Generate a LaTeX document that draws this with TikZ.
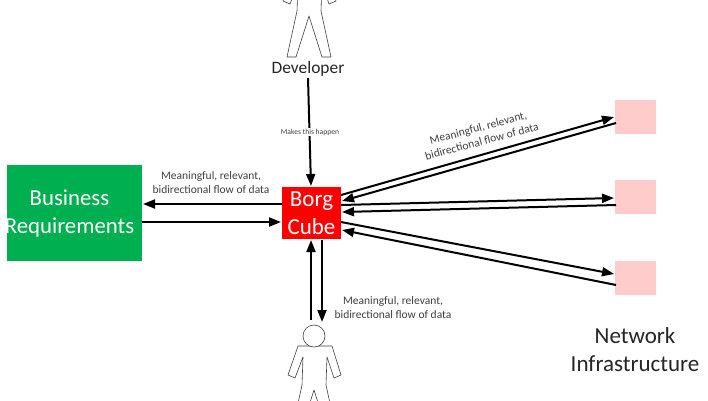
\documentclass[tikz,border=0pt]{standalone}
\usepackage{fontspec}
\setmainfont{Carlito}
\usetikzlibrary{arrows.meta}
\definecolor{grn}{HTML}{00B050}
\definecolor{pnk}{HTML}{FFCCCC}
\definecolor{txt}{HTML}{404040}
\tikzset{
  box/.style={draw=none,inner sep=0pt,outer sep=0pt,align=center},
  lbl/.style={inner sep=0pt,align=center,text=txt,font=\fontsize{11.5}{14}\selectfont},
  flow/.style={line width=2pt,draw=black,-{Triangle[length=12pt,width=9pt]}},
  body/.style={draw=black!75,line width=0.6pt,fill=white,line join=round},
  person/.pic={
    \draw[body] (-16,-44) -- (-26,-15) -- (-19,-12) -- (-11,-33) -- (-12,-5) -- (-22,41) -- (-13,41)
      -- (0,0) -- (13,41) -- (22,41) -- (12,-5) -- (13,-33) -- (20,-12) -- (27,-15) -- (18,-44) -- cycle;
    \draw[body] (0,-54) circle (11);
  }
}
\begin{document}
\begin{tikzpicture}[x=1pt,y=-1pt]
\clip (0,0) rectangle (708,400);
\fill[white] (0,0) rectangle (708,400);
\pic at (309,16) {person};
\pic at (314,390) {person};
\node[inner sep=0pt,text=black!85,font=\fontsize{17.4}{18}\selectfont] (dev) at (308,69) {Developer};
\node[box,fill=grn,minimum width=135pt,minimum height=96pt] (biz) at (74.5,213) {};
\node[box,text=white,font=\fontsize{22.8}{28}\selectfont] (biztext) at (69.5,213) {Business\\Requirements};
\node[box,fill=red,minimum width=59pt,minimum height=52pt,text=white,font=\fontsize{23}{28}\selectfont] (borg) at (311.5,213) {Borg\\Cube};
\node[box,fill=pnk,minimum width=41pt,minimum height=34pt] (p1) at (635.5,117) {};
\node[box,fill=pnk,minimum width=41pt,minimum height=34pt] (p2) at (635.5,197) {};
\node[box,fill=pnk,minimum width=41pt,minimum height=34pt] (p3) at (635.5,278) {};
\node[inner sep=0pt,align=center,text=black!85,font=\fontsize{23}{28}\selectfont] (net) at (635,350) {Network\\Infrastructure};
\node[lbl,rotate=15] (l1) at (480,134.5) {Meaningful, relevant,\\bidirectional flow of data};
\node[lbl] (l2) at (211,182.5) {Meaningful, relevant,\\bidirectional flow of data};
\node[lbl] (l3) at (393,307.5) {Meaningful, relevant,\\bidirectional flow of data};
\coordinate (d0) at (308,78);
\coordinate (d1) at (311,186);
\draw[flow] (d0) -- (d1);
\node[inner sep=0.5pt,fill=white,text=txt,font=\fontsize{7.6}{8}\selectfont] (mk) at (310,132) {Makes this happen};
\coordinate (a0) at (282,204); \coordinate (a1) at (143,204);
\draw[flow] (a0) -- (a1);
\coordinate (b0) at (142,222); \coordinate (b1) at (281,222);
\draw[flow] (b0) -- (b1);
\coordinate (c0) at (311,320); \coordinate (c1) at (311,240);
\draw[flow] (c0) -- (c1);
\coordinate (e0) at (322,240); \coordinate (e1) at (322,322);
\draw[flow] (e0) -- (e1);
\coordinate (f0) at (341,195); \coordinate (f1) at (614,117);
\draw[flow] (f0) -- (f1);
\coordinate (g0) at (616,123); \coordinate (g1) at (342,201);
\draw[flow] (g0) -- (g1);
\coordinate (h0) at (341,205); \coordinate (h1) at (614,198);
\draw[flow] (h0) -- (h1);
\coordinate (i0) at (616,205); \coordinate (i1) at (342,212);
\draw[flow] (i0) -- (i1);
\coordinate (j0) at (341,222); \coordinate (j1) at (614,274);
\draw[flow] (j0) -- (j1);
\coordinate (k0) at (616,285); \coordinate (k1) at (342,230);
\draw[flow] (k0) -- (k1);
\end{tikzpicture}
\end{document}
